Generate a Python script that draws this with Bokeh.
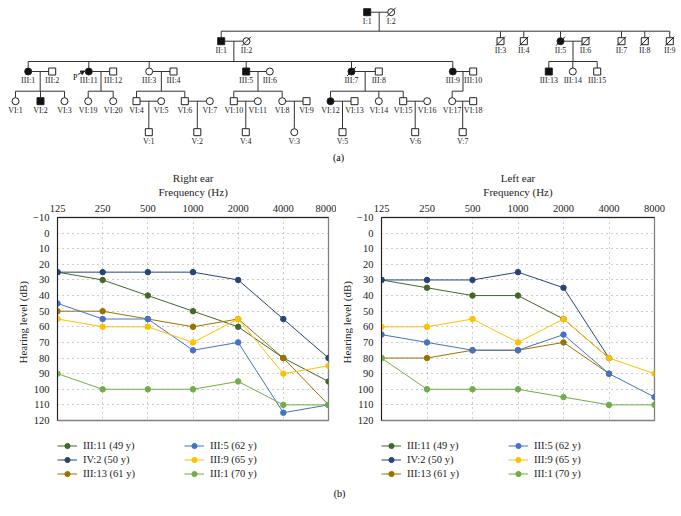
import math
from bokeh.plotting import figure
from bokeh.models import (Range1d, FixedTicker, Legend, LegendItem, Arrow,
                          NormalHead, ColumnDataSource)
from bokeh.layouts import column, row
from bokeh.embed import file_html
from bokeh.resources import INLINE
from bokeh.core.properties import value

SERIF = "Liberation Serif"
NaN = float("nan")

# ---------------- audiogram data ----------------
freq_labels = ["125", "250", "500", "1000", "2000", "4000", "8000"]
series_names = ["III:11 (49 y)", "IV:2 (50 y)", "III:13 (61 y)",
                "III:5 (62 y)", "III:9 (65 y)", "III:1 (70 y)"]
series_colors = ["#43682B", "#264478", "#997300", "#4472C4", "#FFC000", "#70AD47"]

right_iii11 = [25, 30, 40, 50, 60, 80, 95]
right_iv2 = [25, 25, 25, 25, 30, 55, 80]
right_iii13 = [50, 50, 55, 60, 55, 80, 110]
right_iii5 = [45, 55, 55, 75, 70, 115, 110]
right_iii9 = [55, 60, 60, 70, 55, 90, 85]
right_iii1 = [90, 100, 100, 100, 95, 110, 110]

left_iii11 = [30, 35, 40, 40, 55, 80, NaN]
left_iv2 = [30, 30, 30, 25, 35, 80, NaN]
left_iii13 = [80, 80, 75, 75, 70, 90, NaN]
left_iii5 = [65, 70, 75, 75, 65, 90, 105]
left_iii9 = [60, 60, 55, 70, 55, 80, 90]
left_iii1 = [80, 100, 100, 100, 105, 110, 110]

right_series = [right_iii11, right_iv2, right_iii13, right_iii5, right_iii9, right_iii1]
left_series = [left_iii11, left_iv2, left_iii13, left_iii5, left_iii9, left_iii1]

# ---------------- pedigree data ----------------
ped_ids = ["I:1", "I:2",
           "II:1", "II:2", "II:3", "II:4", "II:5", "II:6", "II:7", "II:8", "II:9",
           "III:1", "III:2", "III:11", "III:12", "III:3", "III:4", "III:5", "III:6",
           "III:7", "III:8", "III:9", "III:10", "III:13", "III:14", "III:15",
           "VI:1", "VI:2", "VI:3", "VI:19", "VI:20", "VI:4", "VI:5", "VI:6", "VI:7",
           "VI:10", "VI:11", "VI:8", "VI:9", "VI:12", "VI:13", "VI:14", "VI:15",
           "VI:16", "VI:17", "VI:18",
           "V:1", "V:2", "V:4", "V:3", "V:5", "V:6", "V:7"]
ped_sex = ["M", "F",
           "M", "F", "M", "M", "F", "M", "M", "M", "M",
           "F", "M", "F", "M", "F", "M", "M", "F",
           "F", "M", "F", "M", "M", "F", "M",
           "F", "M", "F", "F", "F", "M", "F", "M", "F",
           "M", "F", "F", "M", "F", "M", "F", "M",
           "F", "F", "M",
           "M", "M", "M", "F", "M", "M", "M"]
ped_affected = ["I:1", "II:1", "II:5", "III:1", "III:11", "III:5", "III:7", "III:9",
                "III:13", "VI:2", "VI:12"]
ped_deceased = ["I:2", "II:2", "II:3", "II:4", "II:5", "II:6", "II:7", "II:8", "II:9",
                "III:7"]
ped_gen = [0, 0,
           1, 1, 1, 1, 1, 1, 1, 1, 1,
           2, 2, 2, 2, 2, 2, 2, 2, 2, 2, 2, 2, 2, 2, 2,
           3, 3, 3, 3, 3, 3, 3, 3, 3, 3, 3, 3, 3, 3, 3, 3, 3, 3, 3, 3,
           4, 4, 4, 4, 4, 4, 4]
couples = [("I:1", "I:2"), ("II:1", "II:2"), ("II:5", "II:6"),
           ("III:1", "III:2"), ("III:11", "III:12"), ("III:3", "III:4"),
           ("III:5", "III:6"), ("III:7", "III:8"), ("III:9", "III:10"),
           ("VI:4", "VI:5"), ("VI:6", "VI:7"), ("VI:10", "VI:11"), ("VI:8", "VI:9"),
           ("VI:12", "VI:13"), ("VI:15", "VI:16"), ("VI:17", "VI:18")]
offspring = [["II:1", "II:3", "II:4", "II:5", "II:7", "II:8", "II:9"],
             ["III:1", "III:11", "III:3", "III:5", "III:7", "III:9"],
             ["III:13", "III:14", "III:15"],
             ["VI:1", "VI:2", "VI:3"], ["VI:19", "VI:20"], ["VI:4", "VI:6"],
             ["VI:10", "VI:8"], ["VI:12", "VI:14", "VI:15"], ["VI:17"],
             ["V:1"], ["V:2"], ["V:4"], ["V:3"], ["V:5"], ["V:6"], ["V:7"]]
proband = "III:11"

# pedigree layout (drawing positions)
ped_x = [366.7, 390.7,
         220.7, 246.0, 500.0, 523.3, 560.0, 585.0, 621.0, 644.3, 669.3,
         27.7, 51.7, 88.3, 112.7, 148.7, 173.0, 245.7, 269.3,
         351.0, 378.3, 452.3, 472.7, 548.3, 572.3, 596.7,
         15.0, 40.0, 64.0, 87.7, 112.7, 136.0, 160.7, 184.3, 209.3,
         233.3, 257.3, 281.7, 306.0, 330.0, 354.0, 378.3, 402.7,
         426.7, 451.7, 472.7,
         148.3, 196.8, 245.3, 293.8, 342.0, 414.7, 462.2]
gen_y = [11.7, 40.7, 71.0, 100.7, 131.7]
SYM = 7.0
R = SYM / 2
W = 680

# page layout (pixels)
PED_H = 163
HDR_TOP, ROW_TOP, ROW_BOT, PAGE_BOT = 163, 200, 430, 500
FRAME_TOP, FRAME_BOT = 217.3, 420.0
R_FRAME = (57.0, 328.3)
L_FRAME = (381.0, 654.0)
YLAB_R = (0, 30)     # strip holding the right-ear y label
YLAB_L = (336, 353)  # strip holding the left-ear y label


def blank(width, height, xr, yr):
    f = figure(width=width, height=height, x_range=Range1d(*xr), y_range=Range1d(*yr),
               output_backend="svg", toolbar_location=None, title=None,
               x_axis_type=None, y_axis_type=None, min_border=0)
    f.grid.visible = False
    f.outline_line_color = None
    return f


# ---------------- pedigree figure ----------------
ped = blank(W, PED_H, (0, W), (PED_H, 0))

pos = {i: (x, gen_y[g]) for i, x, g in zip(ped_ids, ped_x, ped_gen)}
sx0, sy0, sx1, sy1 = [], [], [], []


def seg(a, b, c, d):
    sx0.append(a); sy0.append(b); sx1.append(c); sy1.append(d)


for (a, b), kids in zip(couples, offspring):
    xa, ya = pos[a]
    xb, yb = pos[b]
    seg(min(xa, xb) + R, ya, max(xa, xb) - R, ya)
    mx = (xa + xb) / 2
    ky = pos[kids[0]][1]
    sib_y = ky - 10
    seg(mx, ya, mx, sib_y)
    kx = [pos[k][0] for k in kids]
    lo, hi = min(kx + [mx]), max(kx + [mx])
    if hi - lo > 1:
        seg(lo, sib_y, hi, sib_y)
    for k in kids:
        seg(pos[k][0], sib_y, pos[k][0], ky - R)

ped.segment(sx0, sy0, sx1, sy1, line_color="#333333", line_width=1)

ped_src = ColumnDataSource(dict(
    x=ped_x, y=[gen_y[g] for g in ped_gen], label=ped_ids,
    ly=[gen_y[g] + 8.8 for g in ped_gen],
    marker=["square" if s == "M" else "circle" for s in ped_sex],
    fill=["#111111" if i in ped_affected else "white" for i in ped_ids]))
ped.scatter("x", "y", marker="marker", size=SYM, fill_color="fill",
            line_color="#222222", line_width=1, source=ped_src)
ped.text("x", "ly", text="label", source=ped_src, text_font=value(SERIF),
         text_font_size="8px", text_align="center", text_baseline="middle",
         text_color="#222222")

dx = [pos[i][0] for i in ped_deceased]
dy = [pos[i][1] for i in ped_deceased]
ped.segment([x - 4.5 for x in dx], [y + 4.5 for y in dy],
            [x + 4.5 for x in dx], [y - 4.5 for y in dy],
            line_color="#222222", line_width=1)

px, py = pos[proband]
ped.text([px - 13.5], [py + 5.5], text=["P"], text_font=value(SERIF),
         text_font_size="8px", text_align="center", text_baseline="middle")
ped.add_layout(Arrow(end=NormalHead(size=4, line_color="#222222", fill_color="#222222"),
                     x_start=px - 11, y_start=py + 3, x_end=px - 4, y_end=py - 0.5,
                     line_color="#222222", line_width=1))
ped.text([338], [157], text=["(a)"], text_font=value(SERIF), text_font_size="10px",
         text_align="center", text_baseline="middle")

# ---------------- header (titles + x-axis label) ----------------
hdr = blank(W, ROW_TOP - HDR_TOP, (0, W), (ROW_TOP, HDR_TOP))
cx = [(R_FRAME[0] + R_FRAME[1]) / 2, (L_FRAME[0] + L_FRAME[1]) / 2]
hdr.text(cx, [177, 177], text=["Right ear", "Left ear"], text_font=value(SERIF),
         text_font_size="11px", text_align="center", text_baseline="middle",
         text_color="#222222")
hdr.text(cx, [191.7, 191.7], text=["Frequency (Hz)", "Frequency (Hz)"],
         text_font=value(SERIF), text_font_size="11px", text_align="center",
         text_baseline="middle", text_color="#222222")


# ---------------- y-axis label strips ----------------
def ylabel_strip(xr, cxl):
    h = ROW_BOT - ROW_TOP
    f = blank(xr[1] - xr[0], h, xr, (0, h))
    mid = ROW_BOT - (FRAME_TOP + FRAME_BOT) / 2
    f.text([cxl], [mid], text=["Hearing level (dB)"], angle=math.pi / 2,
           text_font=value(SERIF), text_font_size="11px", text_align="center",
           text_baseline="middle", text_color="#222222")
    return f


ylab_r = ylabel_strip(YLAB_R, 22.5)
ylab_l = ylabel_strip(YLAB_L, 346.5)


# ---------------- audiograms ----------------
def audiogram(series, x0, x1, frame):
    mbl = int(round(frame[0] - x0))
    mbr = int(round(x1 - frame[1]))
    p = figure(width=x1 - x0, height=ROW_BOT - ROW_TOP,
               x_range=Range1d(0, 6), y_range=Range1d(120, -10),
               output_backend="svg", toolbar_location=None, title=None,
               x_axis_location="above",
               min_border_left=mbl, min_border_right=mbr,
               min_border_top=int(round(FRAME_TOP - ROW_TOP)),
               min_border_bottom=int(round(ROW_BOT - FRAME_BOT)))
    xa = p.xaxis[0]
    xa.ticker = FixedTicker(ticks=list(range(len(freq_labels))))
    xa.major_label_overrides = {i: f for i, f in enumerate(freq_labels)}
    ya = p.yaxis[0]
    ya.ticker = FixedTicker(ticks=list(range(-10, 121, 10)))
    ya.major_label_overrides = {-10: "\u221210"}
    for ax in (xa, ya):
        ax.axis_line_color = "#222222"
        ax.major_tick_line_color = None
        ax.minor_tick_line_color = None
        ax.major_label_text_font = SERIF
        ax.major_label_text_font_size = "10.5px"
        ax.major_label_text_color = "#222222"
    xa.major_label_standoff = 0
    ya.major_label_standoff = 2

    for g in (p.xgrid[0], p.ygrid[0]):
        g.grid_line_color = "#9a9a9a"
        g.grid_line_dash = "1 4"
        g.grid_line_width = 1
    p.outline_line_color = "#808080"
    p.outline_line_width = 1.3

    xs = list(range(len(freq_labels)))
    for vals, col in zip(series, series_colors):
        p.line(xs, vals, line_color=col, line_width=1)
        p.scatter(xs, vals, size=5.5, fill_color=col, line_color=col)
    return p


right_fig = audiogram(right_series, YLAB_R[1], YLAB_L[0], R_FRAME)
left_fig = audiogram(left_series, YLAB_L[1], W, L_FRAME)

# ---------------- legend strip + "(b)" tag ----------------
LEG_H = PAGE_BOT - ROW_BOT
leg_fig = blank(W, LEG_H, (0, W), (LEG_H, 0))
items_r, items_l = [], []
for name, col in zip(series_names, series_colors):
    # legend proxies (no visible data)
    lr = leg_fig.line([NaN], [NaN], line_color=col, line_width=1)
    sr = leg_fig.scatter([NaN], [NaN], size=5.5, fill_color=col, line_color=col)
    items_r.append(LegendItem(label=name, renderers=[lr, sr]))
    items_l.append(LegendItem(label=name, renderers=[lr, sr]))

for items, lx in ((items_r, int(R_FRAME[0])), (items_l, int(L_FRAME[0]))):
    leg = Legend(items=items, location=(lx, 20), orientation="vertical", nrows=3,
                 glyph_width=20, glyph_height=13, label_height=13, label_width=100,
                 label_standoff=6, spacing=1, padding=0, margin=0,
                 border_line_color=None, background_fill_alpha=0,
                 label_text_font=SERIF, label_text_font_size="10.5px",
                 label_text_color="#222222")
    leg_fig.add_layout(leg)

leg_fig.text([339], [63], text=["(b)"], text_font=value(SERIF), text_font_size="10px",
             text_align="center", text_baseline="middle")

layout = column(ped, hdr, row(ylab_r, right_fig, ylab_l, left_fig, spacing=0),
                leg_fig, spacing=0)
open("out.html", "w").write(file_html(layout, INLINE))
